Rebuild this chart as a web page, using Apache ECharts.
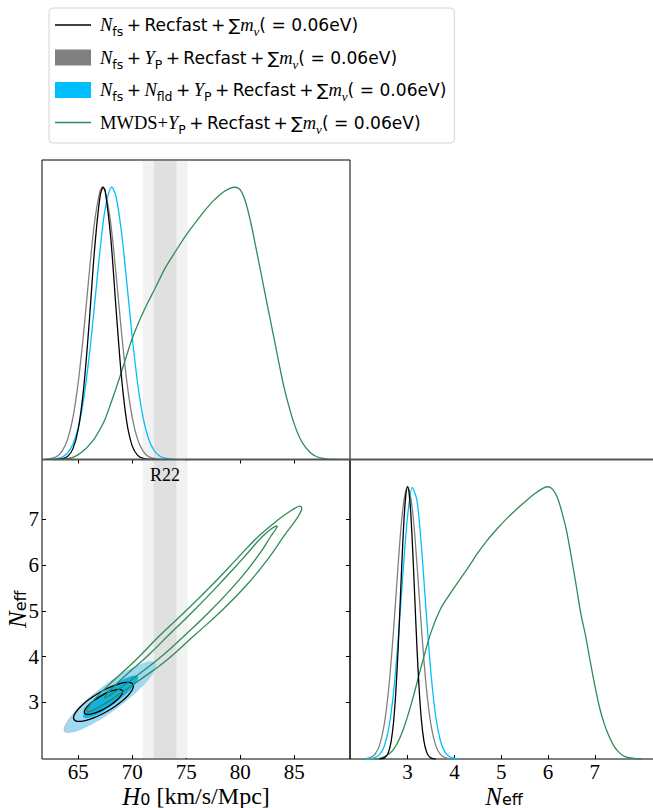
<!DOCTYPE html>
<html>
<head>
<meta charset="utf-8">
<script src="https://cdn.jsdelivr.net/npm/echarts@6.0.0/dist/echarts.min.js"></script>
<style>
html,body{margin:0;padding:0;background:#fff;}
#chart{width:653px;height:808px;}
</style>
</head>
<body>
<div id="chart"></div>
<script>
// ---------------- data ----------------
const h0Ticks = [65, 70, 75, 80, 85];
const neffTicks = [3, 4, 5, 6, 7];
const h0Range = [61.64, 90.16];
const neffRange = [1.76, 8.31];
const neffRange1D = [1.77, 8.35];
const densRange = [0, 1.1];
const r22Band2 = [70.96, 75.12];
const r22Band1 = [71.99, 74.09];

// 1D posteriors of H0 (normalised to peak = 1)
const h0Black = [[63.0,0],[63.5,0.003],[64.0,0.011],[64.5,0.039],[65.0,0.112],[65.5,0.262],[66.0,0.497],[66.5,0.768],[67.0,0.963],[67.3,1.0],[67.5,0.984],[68.0,0.817],[68.5,0.552],[69.0,0.303],[69.5,0.135],[70.0,0.049],[70.5,0.015],[71.0,0.004],[71.5,0.001],[72.0,0]];
const h0Gray = [[62.0,0.001],[62.5,0.004],[63.0,0.011],[63.5,0.031],[64.0,0.073],[64.5,0.153],[65.0,0.285],[65.5,0.468],[66.0,0.679],[66.5,0.870],[67.0,0.985],[67.25,1.0],[67.5,0.985],[68.0,0.870],[68.5,0.679],[69.0,0.468],[69.5,0.285],[70.0,0.153],[70.5,0.073],[71.0,0.031],[71.5,0.011],[72.0,0.004],[72.5,0.001],[73.0,0]];
const h0Blue = [[62.5,0.001],[63.0,0.003],[63.5,0.009],[64.0,0.024],[64.5,0.056],[65.0,0.118],[65.5,0.223],[66.0,0.375],[66.5,0.566],[67.0,0.764],[67.5,0.923],[68.1,1.0],[68.5,0.965],[69.0,0.835],[69.5,0.647],[70.0,0.448],[70.5,0.278],[71.0,0.154],[71.5,0.077],[72.0,0.034],[72.5,0.014],[73.0,0.005],[73.5,0.002],[74.0,0]];
const h0Green = [[63.5,0],[64.0,0.003],[64.5,0.008],[65.0,0.018],[65.5,0.033],[66.0,0.053],[66.5,0.077],[67.0,0.11],[67.5,0.15],[68.0,0.205],[68.5,0.262],[69.0,0.322],[69.5,0.385],[70.0,0.445],[70.5,0.495],[71.0,0.54],[71.5,0.581],[72.0,0.62],[72.5,0.66],[73.0,0.70],[73.5,0.733],[74.0,0.764],[74.5,0.795],[75.0,0.825],[75.5,0.852],[76.0,0.878],[76.5,0.904],[77.0,0.928],[77.5,0.95],[78.0,0.968],[78.5,0.984],[79.0,0.995],[79.5,1.0],[80.0,0.99],[80.5,0.945],[81.0,0.865],[81.5,0.768],[82.0,0.668],[82.5,0.568],[83.0,0.47],[83.5,0.37],[84.0,0.274],[84.5,0.196],[85.0,0.13],[85.5,0.08],[86.0,0.047],[86.5,0.025],[87.0,0.012],[87.5,0.005],[88.0,0.002],[88.5,0],[89.0,0]];

// 1D posteriors of N_eff
const neffBlack = [[2.4,0],[2.45,0.001],[2.5,0.004],[2.55,0.011],[2.6,0.029],[2.65,0.066],[2.7,0.135],[2.75,0.249],[2.8,0.411],[2.85,0.607],[2.9,0.801],[2.95,0.946],[3.0,1.0],[3.05,0.946],[3.1,0.801],[3.15,0.607],[3.2,0.411],[3.25,0.249],[3.3,0.135],[3.35,0.066],[3.4,0.029],[3.45,0.011],[3.5,0.004],[3.55,0.001],[3.6,0]];
const neffGray = [[2.0,0],[2.1,0.001],[2.2,0.005],[2.3,0.017],[2.4,0.05],[2.5,0.125],[2.6,0.264],[2.7,0.472],[2.8,0.717],[2.9,0.92],[3.0,1.0],[3.1,0.92],[3.2,0.717],[3.3,0.472],[3.4,0.264],[3.5,0.125],[3.6,0.05],[3.7,0.017],[3.8,0.005],[3.9,0.001],[4.0,0]];
const neffBlue = [[2.1,0],[2.2,0.001],[2.3,0.005],[2.4,0.016],[2.5,0.046],[2.6,0.115],[2.7,0.244],[2.8,0.441],[2.9,0.679],[3.0,0.891],[3.1,0.997],[3.2,0.95],[3.3,0.772],[3.4,0.534],[3.5,0.315],[3.6,0.158],[3.7,0.068],[3.8,0.025],[3.9,0.008],[4.0,0.002],[4.1,0]];
const neffGreen = [[2.3,0],[2.5,0.008],[2.7,0.035],[2.9,0.105],[3.1,0.215],[3.3,0.345],[3.5,0.465],[3.7,0.55],[3.9,0.605],[4.1,0.655],[4.3,0.705],[4.5,0.757],[4.7,0.803],[4.9,0.843],[5.1,0.88],[5.3,0.913],[5.5,0.943],[5.7,0.972],[5.9,0.995],[6.0,1.0],[6.1,0.99],[6.2,0.96],[6.3,0.905],[6.4,0.835],[6.5,0.74],[6.6,0.64],[6.7,0.535],[6.8,0.455],[6.9,0.36],[7.0,0.27],[7.1,0.19],[7.2,0.13],[7.3,0.085],[7.4,0.05],[7.5,0.027],[7.6,0.013],[7.7,0.006],[7.9,0.001],[8.0,0]];

// 2D contours (H0, N_eff), outer = 95%, inner = 68%
const gray2s = [[70.50,3.600],[70.54,3.527],[70.34,3.417],[69.93,3.277],[69.32,3.117],[68.56,2.947],[67.70,2.780],[66.80,2.627],[65.92,2.497],[65.12,2.401],[64.46,2.343],[63.97,2.329],[63.70,2.360],[63.66,2.433],[63.86,2.543],[64.27,2.683],[64.88,2.843],[65.64,3.013],[66.50,3.180],[67.40,3.333],[68.28,3.463],[69.08,3.559],[69.74,3.617],[70.23,3.631]];
const gray1s = [[69.24,3.372],[69.12,3.274],[68.48,3.103],[67.50,2.904],[66.44,2.731],[65.58,2.630],[65.16,2.628],[65.28,2.726],[65.92,2.897],[66.90,3.096],[67.96,3.269],[68.82,3.370]];
const blue2s = [[72.17,3.861],[72.21,3.777],[71.97,3.648],[71.46,3.483],[70.71,3.294],[69.78,3.092],[68.72,2.893],[67.62,2.708],[66.54,2.552],[65.57,2.435],[64.76,2.364],[64.16,2.345],[63.84,2.379],[63.79,2.463],[64.03,2.592],[64.54,2.757],[65.29,2.946],[66.22,3.148],[67.28,3.348],[68.38,3.532],[69.46,3.688],[70.43,3.805],[71.25,3.876],[71.84,3.895]];
const blue1s = [[70.50,3.565],[70.53,3.515],[70.38,3.437],[70.07,3.338],[69.63,3.225],[69.07,3.103],[68.43,2.984],[67.77,2.873],[67.13,2.779],[66.54,2.708],[66.05,2.667],[65.70,2.655],[65.50,2.675],[65.47,2.725],[65.62,2.803],[65.93,2.902],[66.37,3.015],[66.93,3.137],[67.57,3.257],[68.23,3.367],[68.87,3.461],[69.46,3.532],[69.95,3.573],[70.30,3.585]];
const black2s = [[70.06,3.393],[70.09,3.331],[69.93,3.248],[69.60,3.148],[69.11,3.038],[68.49,2.926],[67.80,2.821],[67.08,2.728],[66.37,2.654],[65.73,2.604],[65.20,2.582],[64.81,2.589],[64.60,2.625],[64.57,2.687],[64.73,2.770],[65.07,2.870],[65.55,2.980],[66.17,3.092],[66.86,3.197],[67.58,3.290],[68.29,3.364],[68.93,3.414],[69.46,3.436],[69.85,3.429]];
const black1s = [[69.08,3.255],[69.10,3.216],[69.00,3.162],[68.78,3.098],[68.47,3.028],[68.08,2.957],[67.63,2.889],[67.17,2.829],[66.72,2.782],[66.31,2.750],[65.97,2.736],[65.72,2.740],[65.58,2.763],[65.56,2.802],[65.66,2.856],[65.88,2.920],[66.19,2.990],[66.59,3.061],[67.03,3.129],[67.49,3.189],[67.94,3.236],[68.35,3.268],[68.69,3.282],[68.94,3.278]];
const green2s = [[85.56,7.29],[85.67,7.21],[85.15,6.99],[84.02,6.63],[82.67,6.17],[80.80,5.62],[78.44,5.04],[75.73,4.46],[73.15,3.915],[70.46,3.449],[68.26,3.091],[66.69,2.867],[65.86,2.79],[65.84,2.867],[66.61,3.091],[68.13,3.449],[70.28,3.915],[72.54,4.46],[75.14,5.04],[77.61,5.62],[79.81,6.17],[81.69,6.63],[83.50,6.99],[84.82,7.21]];
const green1s = [[83.38,6.86],[83.32,6.80],[82.77,6.61],[81.97,6.31],[80.74,5.92],[79.12,5.47],[77.15,4.98],[74.97,4.49],[72.89,4.04],[70.80,3.65],[69.12,3.35],[67.97,3.16],[67.46,3.10],[67.57,3.16],[68.33,3.35],[69.68,3.65],[71.53,4.04],[73.45,4.49],[75.59,4.98],[77.60,5.47],[79.38,5.92],[80.85,6.31],[81.98,6.61],[82.92,6.80]];

// ---------------- styles / option building ----------------
const C_BLACK = '#000000', C_GRAY = '#808080', C_BLUE = '#00bfff', C_GREEN = '#2e8b57';
const SERIF = 'Liberation Serif', SANS = 'DejaVu Sans';

const legendRich = {
  i0: {fontFamily: SERIF, fontStyle: 'italic', fontSize: 18.5, lineHeight: 26, color: '#000', padding: [0, 0, 0, 4]},
  i:  {fontFamily: SERIF, fontStyle: 'italic', fontSize: 18.5, lineHeight: 26, color: '#000'},
  s:  {fontFamily: SANS, fontSize: 12.5, lineHeight: 13, verticalAlign: 'bottom', color: '#000'},
  sg: {fontFamily: SERIF, fontStyle: 'italic', fontSize: 13, lineHeight: 13, verticalAlign: 'bottom', color: '#000'},
  r:  {fontFamily: SANS, fontSize: 17.1, lineHeight: 26, color: '#000'},
  t:  {fontFamily: SERIF, fontSize: 18.5, lineHeight: 26, color: '#000', padding: [0, 0, 0, 4]}
};
const tail = '{r|\u2009+\u2009Recfast\u2009+\u2009\u2211}{i|m}{sg|\u03bd}{r|( = 0.06eV)}';
const legendLabels = {
  nfs: '{i0|N}{s|fs}' + tail,
  nfsyp: '{i0|N}{s|fs}{r|\u2009+\u2009}{i|Y}{s|P}' + tail,
  nfsfld: '{i0|N}{s|fs}{r|\u2009+\u2009}{i|N}{s|fld}{r|\u2009+\u2009}{i|Y}{s|P}' + tail,
  mwds: '{t|MWDS+}{i|Y}{s|P}' + tail
};
const axisRich = {
  i: {fontFamily: SERIF, fontStyle: 'italic', fontSize: 25, lineHeight: 22, color: '#000'},
  s: {fontFamily: SANS, fontSize: 16, lineHeight: 6, verticalAlign: 'bottom', color: '#000'},
  r: {fontFamily: SERIF, fontSize: 24, lineHeight: 22, color: '#000'}
};
const tickLabel = {fontFamily: SERIF, fontSize: 21, lineHeight: 20, color: '#000'};
const linePath = 'path://M0,0H36V1.4H0Z';

function lineSeries(name, data, color, xi, yi, z) {
  return {type: 'line', name, data, xAxisIndex: xi, yAxisIndex: yi, smooth: 0.3,
    symbol: 'none', showSymbol: false, color, lineStyle: {color, width: 1.3}, z, silent: true};
}
function bandSeries(xi, yi, withLabel) {
  return {
    type: 'custom', xAxisIndex: xi, yAxisIndex: yi, z: 1, silent: true,
    data: [r22Band2, r22Band1],
    renderItem(params, api) {
      const cs = params.coordSys;
      const x1 = api.coord([api.value(0), cs.y])[0];
      const x2 = api.coord([api.value(1), cs.y])[0];
      const fill = params.dataIndex === 0 ? '#f2f2f2' : '#e0e0e0';
      const children = [{type: 'rect', shape: {x: x1, y: cs.y + 1, width: x2 - x1, height: cs.height - 2}, style: {fill}}];
      if (withLabel && params.dataIndex === 1) {
        children.push({type: 'text', x: (x1 + x2) / 2, y: cs.y + 6,
          style: {text: 'R22', fontFamily: SERIF, fontSize: 18, fill: '#000', align: 'center', verticalAlign: 'top'}});
      }
      return {type: 'group', children};
    }
  };
}
function contourSeries(name, rings, fills, strokes, z) {
  return {
    type: 'custom', name, xAxisIndex: 1, yAxisIndex: 1, z, silent: true,
    itemStyle: {color: fills[0] ? fills[fills.length - 1] : strokes[0]},
    data: rings.map(r => r[0]),
    renderItem(params, api) {
      const ring = rings[params.dataIndex];
      const pts = ring.map(p => api.coord(p));
      return {type: 'polygon', shape: {points: pts, smooth: 0.45},
        style: {fill: fills[params.dataIndex] || 'none', stroke: strokes[params.dataIndex] || null, lineWidth: 1.3}};
    }
  };
}

const noAxis = {show: true, axisLine: {show: false}, axisTick: {show: false}, axisLabel: {show: false}, splitLine: {show: false}};

const option = {
  animation: false,
  backgroundColor: '#fff',
  textStyle: {fontFamily: SANS},
  legend: {
    orient: 'vertical', left: 49, top: 8,
    padding: [4, 8, 7.5, 6],
    itemWidth: 36, itemHeight: 16, itemGap: 6.5,
    backgroundColor: '#fff', borderColor: '#d4d4d4', borderWidth: 1, borderRadius: 4,
    selectedMode: false,
    data: [{name: 'nfs', icon: linePath}, {name: 'nfsyp', icon: 'rect'}, {name: 'nfsfld', icon: 'rect'}, {name: 'mwds', icon: linePath}],
    formatter: n => legendLabels[n],
    textStyle: {color: '#000', lineHeight: 26, rich: legendRich}
  },
  grid: [
    {left: 42, top: 160, width: 308, height: 299.5, show: true, borderColor: '#000', borderWidth: 1, containLabel: false, outerBoundsMode: 'none'},
    {left: 42, top: 459.5, width: 308, height: 299.5, show: true, borderColor: '#000', borderWidth: 1, containLabel: false, outerBoundsMode: 'none'},
    {left: 350, top: 459.5, width: 308, height: 299.5, show: true, borderColor: '#000', borderWidth: 1, containLabel: false, outerBoundsMode: 'none'}
  ],
  xAxis: [
    Object.assign({type: 'value', gridIndex: 0, min: h0Range[0], max: h0Range[1]}, noAxis),
    {type: 'value', gridIndex: 1, min: h0Range[0], max: h0Range[1], position: 'bottom',
      axisLine: {show: false}, splitLine: {show: false},
      axisTick: {show: true, inside: true, length: 4, customValues: h0Ticks, lineStyle: {color: '#000'}},
      axisLabel: Object.assign({show: true, margin: 3, customValues: h0Ticks}, tickLabel),
      name: '{i|H}{s|0}{r| [km/s/Mpc]}', nameLocation: 'middle', nameGap: 26, nameMoveOverlap: false,
      nameTextStyle: {rich: axisRich, lineHeight: 22}},
    {type: 'value', gridIndex: 2, min: neffRange1D[0], max: neffRange1D[1], position: 'bottom',
      axisLine: {show: false}, splitLine: {show: false},
      axisTick: {show: true, inside: true, length: 4, customValues: neffTicks, lineStyle: {color: '#000'}},
      axisLabel: Object.assign({show: true, margin: 3, customValues: neffTicks}, tickLabel),
      name: '{i|N}{s|eff}', nameLocation: 'middle', nameGap: 26, nameMoveOverlap: false,
      nameTextStyle: {rich: axisRich, lineHeight: 22}},
    {type: 'value', gridIndex: 1, min: h0Range[0], max: h0Range[1], position: 'top',
      axisLine: {show: false}, splitLine: {show: false}, axisLabel: {show: false},
      axisTick: {show: true, inside: true, length: 4, customValues: h0Ticks, lineStyle: {color: '#000'}}}
  ],
  yAxis: [
    Object.assign({type: 'value', gridIndex: 0, min: densRange[0], max: densRange[1]}, noAxis),
    {type: 'value', gridIndex: 1, min: neffRange[0], max: neffRange[1], position: 'left',
      axisLine: {show: false}, splitLine: {show: false},
      axisTick: {show: true, inside: true, length: 4, customValues: neffTicks, lineStyle: {color: '#000'}},
      axisLabel: Object.assign({show: true, margin: 3, customValues: neffTicks}, tickLabel),
      name: '{i|N}{s|eff}', nameLocation: 'middle', nameGap: 14, nameRotate: 90, nameMoveOverlap: false,
      nameTextStyle: {rich: axisRich, lineHeight: 22}},
    Object.assign({type: 'value', gridIndex: 2, min: densRange[0], max: densRange[1]}, noAxis),
    {type: 'value', gridIndex: 1, min: neffRange[0], max: neffRange[1], position: 'right',
      axisLine: {show: false}, splitLine: {show: false}, axisLabel: {show: false},
      axisTick: {show: true, inside: true, length: 4, customValues: neffTicks, lineStyle: {color: '#000'}}}
  ],
  graphic: [
    {type: 'line', shape: {x1: 42, y1: 459.5, x2: 653, y2: 459.5}, style: {stroke: '#555', lineWidth: 2}, z: 100, silent: true}
  ],
  series: [
    // top-left: H0 1D
    lineSeries('nfs', h0Black, C_BLACK, 0, 0, 6),
    lineSeries('nfsyp', h0Gray, C_GRAY, 0, 0, 3),
    lineSeries('nfsfld', h0Blue, C_BLUE, 0, 0, 4),
    lineSeries('mwds', h0Green, C_GREEN, 0, 0, 5),
    bandSeries(0, 0, false),
    // bottom-left: 2D
    bandSeries(1, 1, true),
    contourSeries('nfsyp', [gray2s, gray1s], ['#c4c4c4', '#8c8c8c'], [null, null], 2),
    contourSeries('nfsfld', [blue2s, blue1s], ['#9fd8f2', '#12b2e6'], [null, null], 3),
    contourSeries('nfs', [black2s, black1s], [null, null], [C_BLACK, C_BLACK], 4),
    contourSeries('mwds', [green2s, green1s], [null, null], [C_GREEN, C_GREEN], 5),
    // bottom-right: Neff 1D
    lineSeries('nfsyp', neffGray, C_GRAY, 2, 2, 3),
    lineSeries('nfsfld', neffBlue, C_BLUE, 2, 2, 4),
    lineSeries('mwds', neffGreen, C_GREEN, 2, 2, 5),
    lineSeries('nfs', neffBlack, C_BLACK, 2, 2, 6)
  ]
};

const chart = echarts.init(document.getElementById('chart'), null, {renderer: 'svg'});
chart.setOption(option);
</script>
</body>
</html>
